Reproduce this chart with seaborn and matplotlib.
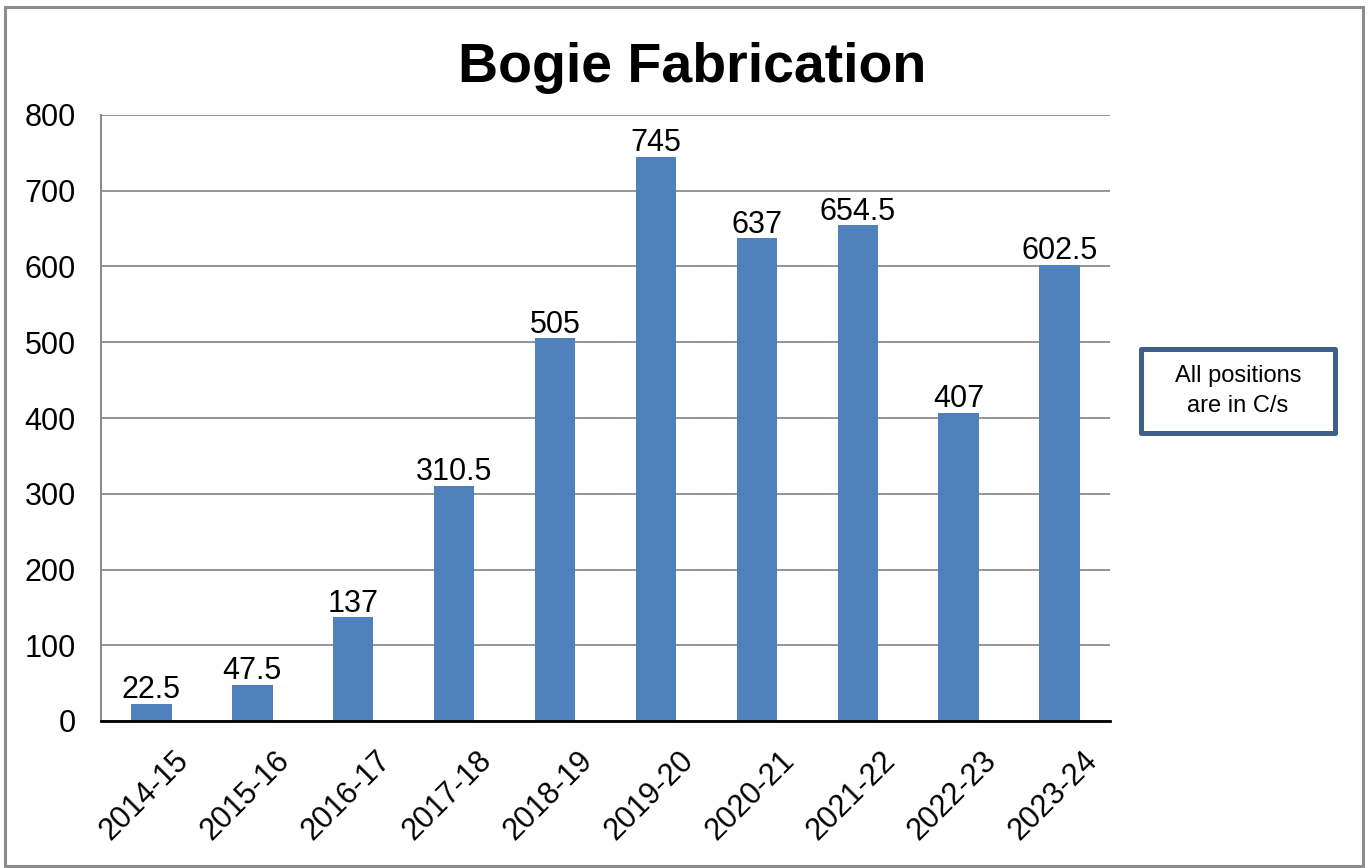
import matplotlib
matplotlib.use("Agg")
import matplotlib.pyplot as plt
from matplotlib.patches import Rectangle
import matplotlib.transforms as mtransforms
import seaborn as sns
import pandas as pd

years = ["2014-15", "2015-16", "2016-17", "2017-18", "2018-19",
         "2019-20", "2020-21", "2021-22", "2022-23", "2023-24"]
values = [22.5, 47.5, 137, 310.5, 505, 745, 637, 654.5, 407, 602.5]
value_labels = ["22.5", "47.5", "137", "310.5", "505", "745", "637", "654.5", "407", "602.5"]
y_ticks = [0, 100, 200, 300, 400, 500, 600, 700, 800]
title = "Bogie Fabrication"
note = "All positions\nare in C/s"

sns.set_style("white")
plt.rcParams["font.family"] = ["Liberation Sans", "DejaVu Sans"]
plt.rcParams["text.color"] = "black"
plt.rcParams["xtick.color"] = "black"
plt.rcParams["ytick.color"] = "black"

W, H = 1371, 868
fig = plt.figure(figsize=(W / 100, H / 100), dpi=100)
ax = fig.add_axes([101 / W, 1 - 721 / H, (1110 - 101) / W, (721 - 115) / H])

df = pd.DataFrame({"year": years, "value": values})
sns.barplot(data=df, x="year", y="value", color="#4F81BD", saturation=1,
            width=0.4, ax=ax, zorder=3, linewidth=0)

ax.set_ylim(0, 800)
ax.set_xlim(-0.5, len(years) - 0.5)
ax.set_yticks(y_ticks)
ax.set_yticklabels([str(t) for t in y_ticks], fontsize=22, color="black")
ax.set_xlabel("")
ax.set_ylabel("")
ax.yaxis.grid(True, color="#8C8C8C", linewidth=1.3, zorder=0)
ax.set_axisbelow(True)
ax.tick_params(axis="y", length=0, pad=18)
ax.tick_params(axis="x", length=0, pad=6)

offset = mtransforms.ScaledTranslation(0.33, -0.27, fig.dpi_scale_trans)
for lbl in ax.get_xticklabels():
    lbl.set_rotation(45)
    lbl.set_rotation_mode("anchor")
    lbl.set_ha("right")
    lbl.set_va("center")
    lbl.set_fontsize(22)
    lbl.set_color("black")
    lbl.set_transform(lbl.get_transform() + offset)

for s in ["top", "right"]:
    ax.spines[s].set_visible(False)
ax.spines["left"].set_color("#8C8C8C")
ax.spines["left"].set_linewidth(1.5)
ax.spines["bottom"].set_color("black")
ax.spines["bottom"].set_linewidth(2)
ax.spines["bottom"].set_zorder(5)

for i, (v, t) in enumerate(zip(values, value_labels)):
    ax.annotate(t, (i, v), xytext=(0, -1), textcoords="offset points",
                ha="center", va="bottom", fontsize=22, color="black", zorder=6)

fig.text(0.505, 1 - 68 / H, title, ha="center", va="center",
         fontsize=40, fontweight="bold", color="black")

# note box
bx0, by0, bx1, by1 = 1141, 349, 1335, 433
fig.patches.append(Rectangle((bx0 / W, 1 - by1 / H), (bx1 - bx0) / W, (by1 - by0) / H,
                             transform=fig.transFigure, facecolor="white",
                             edgecolor="#3E5F8C", linewidth=3.6, joinstyle="round"))
fig.text((bx0 + bx1) / 2 / W, 1 - (by0 + by1) / 2 / H, note, ha="center", va="center",
         fontsize=17, linespacing=1.5, color="black")

# outer border
fig.patches.append(Rectangle((5 / W, 1 - 866 / H), (1363 - 5) / W, (866 - 7) / H,
                             transform=fig.transFigure, facecolor="none",
                             edgecolor="#8C8C8C", linewidth=2.2))

fig.savefig("out.png", dpi=100)
